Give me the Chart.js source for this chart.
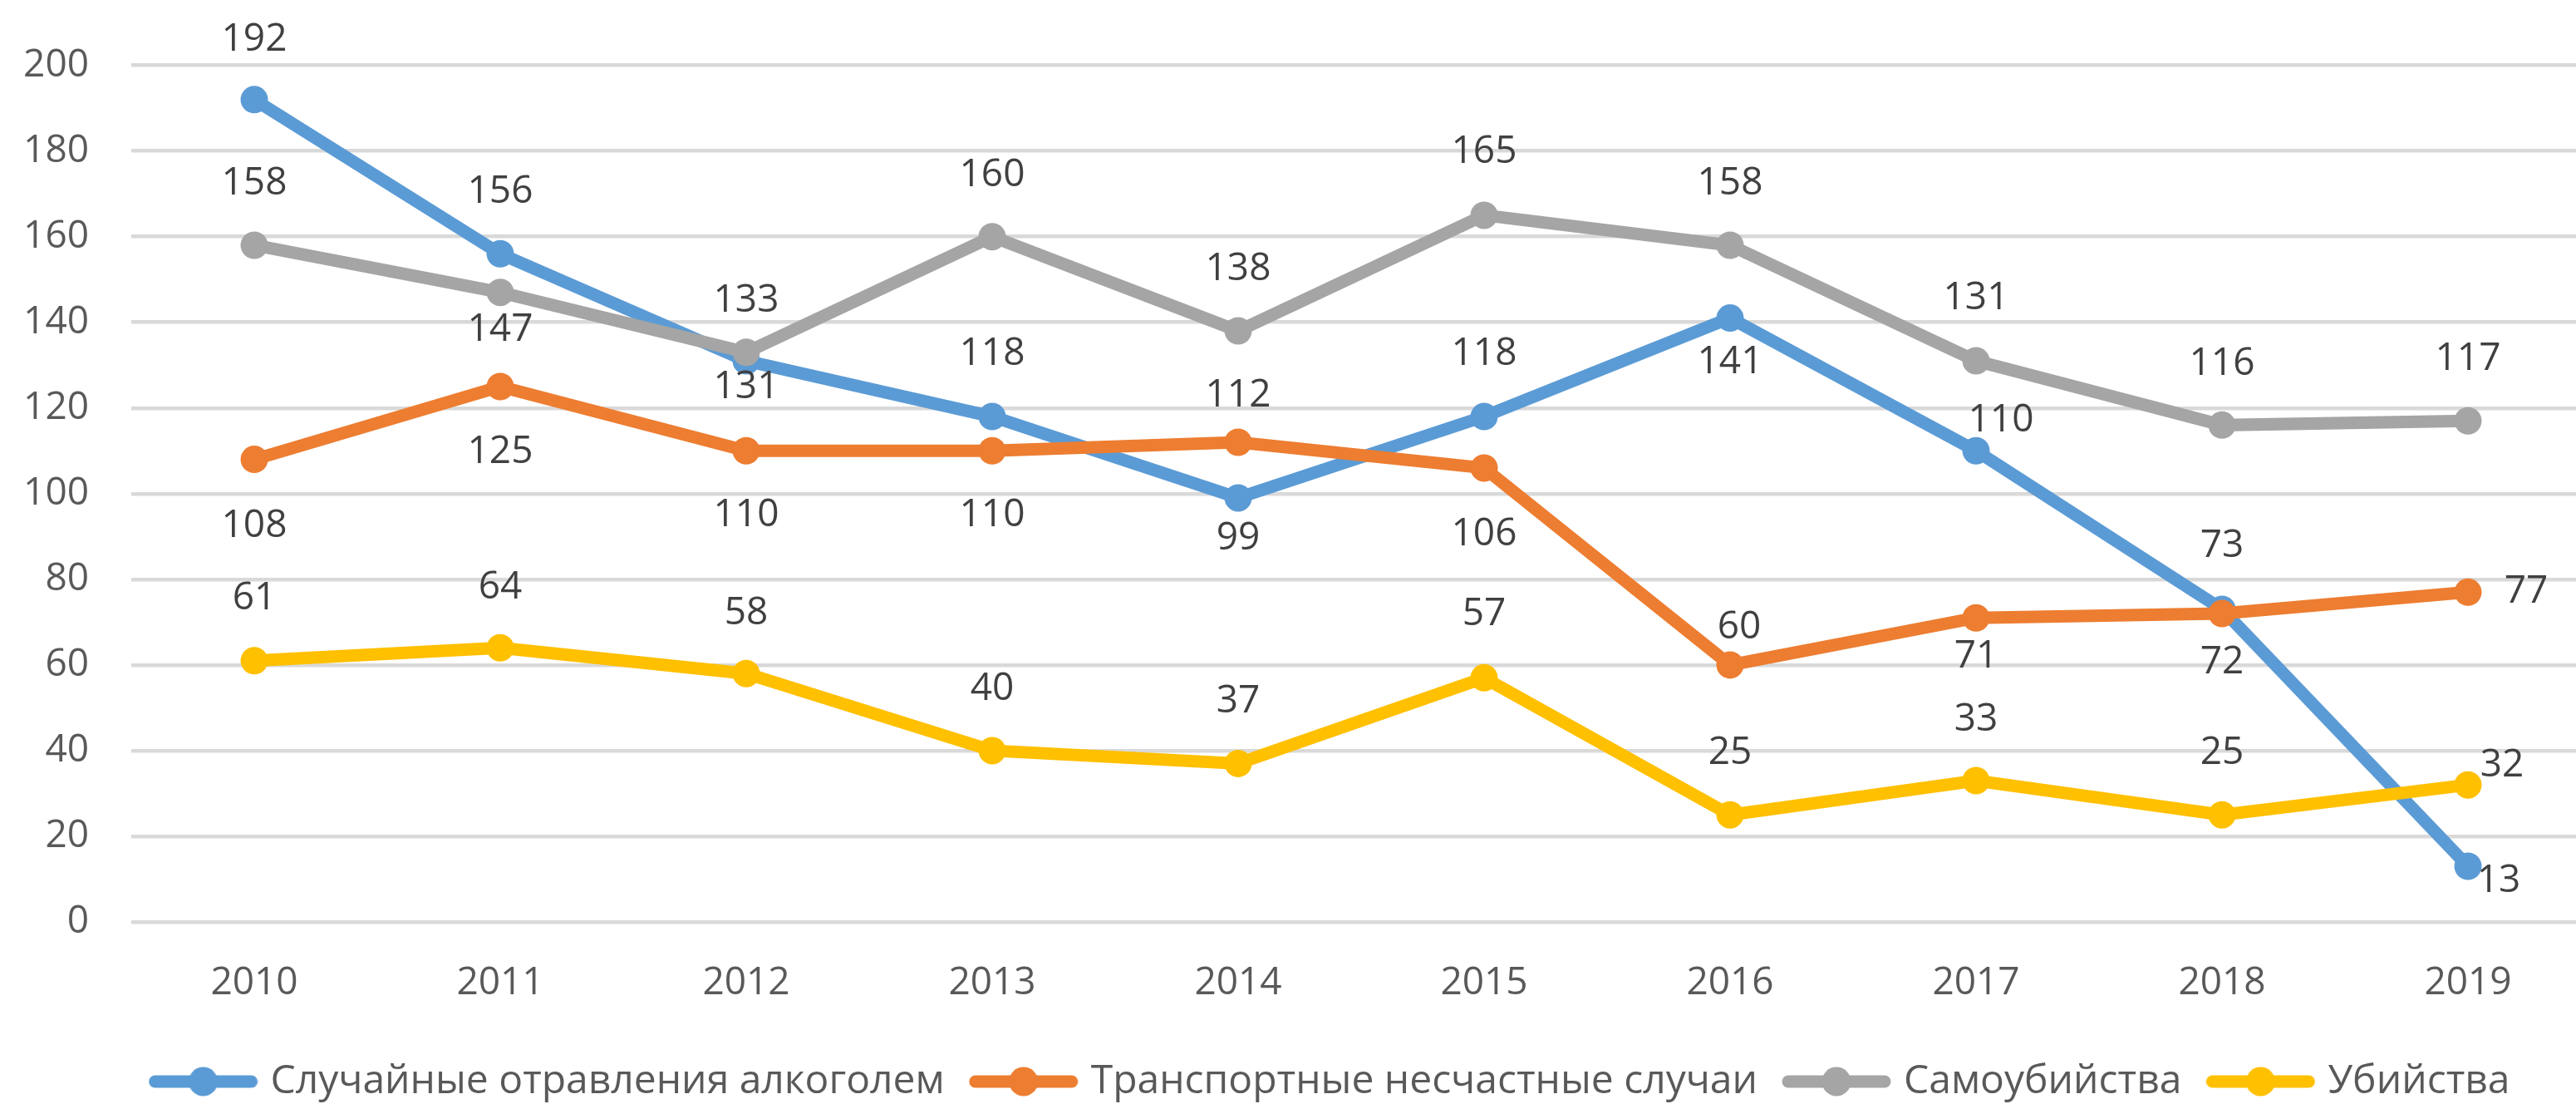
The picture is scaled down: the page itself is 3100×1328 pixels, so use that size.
<!DOCTYPE html>
<html>
<head>
<meta charset="utf-8">
<script src="https://cdn.jsdelivr.net/npm/chart.js@4/dist/chart.umd.min.js"></script>
<style>
  html, body { margin: 0; padding: 0; background: #ffffff; overflow: hidden; }
  #wrap { width: 3100px; height: 1328px; overflow: hidden; position: relative; }
  canvas { display: block; }
</style>
</head>
<body>
<div id="wrap"><canvas id="c" width="3208" height="1335"></canvas></div>
<script>
// ---- data ----
const years = ['2010', '2011', '2012', '2013', '2014', '2015', '2016', '2017', '2018', '2019'];
const seriesNames = ['Случайные отравления алкоголем', 'Транспортные несчастные случаи', 'Самоубийства', 'Убийства'];
const poisoning = [192, 156, 131, 118, 99, 118, 141, 110, 73, 13];
const transport = [108, 125, 110, 110, 112, 106, 60, 71, 72, 77];
const suicide = [158, 147, 133, 160, 138, 165, 158, 131, 116, 117];
const homicide = [61, 64, 58, 40, 37, 57, 25, 33, 25, 32];
const yMin = 0;
const yMax = 200;
const yStep = 20;

// ---- styling (kept apart from the data) ----
const colors = ['#5B9BD5', '#ED7D31', '#A5A5A5', '#FFC000'];
const FONT = '"Open Sans", "Noto Sans", sans-serif';
const FS = 46;
const LEGEND_FS = 48;
// data-label offsets in px relative to each point [dx, dy]
const labelOffsets = [
  [[0,-72],[0,-74],[0,32],[0,-75],[0,49],[0,-75],[0,53],[30,-36],[0,-76],[37,18]],
  [[0,80],[0,79],[0,78],[0,78],[0,-56],[0,80],[11,-45],[0,47],[0,59],[70,0]],
  [[0,-74],[0,45],[0,-62],[0,-74],[0,-74],[0,-76],[0,-74],[0,-75],[0,-73],[0,-74]],
  [[0,-75],[0,-72],[0,-72],[0,-74],[0,-74],[0,-76],[0,-74],[0,-73],[0,-74],[41,-23]]
];

function legendIcon(color) {
  const cv = document.createElement('canvas');
  cv.width = 132; cv.height = 38;
  const g = cv.getContext('2d');
  g.strokeStyle = color; g.lineWidth = 15; g.lineCap = 'round';
  g.beginPath(); g.moveTo(8, 19); g.lineTo(124, 19); g.stroke();
  g.fillStyle = color;
  g.beginPath(); g.arc(66, 19, 17.5, 0, Math.PI * 2); g.fill();
  return cv;
}
const icons = colors.map(legendIcon);

const allSeries = [poisoning, transport, suicide, homicide];

const dataLabelPlugin = {
  id: 'dataLabels',
  afterDatasetsDraw(chart) {
    const ctx = chart.ctx;
    ctx.save();
    ctx.font = FS + 'px ' + FONT;
    ctx.fillStyle = '#404040';
    ctx.textAlign = 'center';
    ctx.textBaseline = 'middle';
    chart.data.datasets.forEach((ds, i) => {
      const meta = chart.getDatasetMeta(i);
      meta.data.forEach((pt, j) => {
        const off = labelOffsets[i][j];
        ctx.fillText(String(ds.data[j]), pt.x + off[0], pt.y + off[1]);
      });
    });
    ctx.restore();
  }
};

new Chart(document.getElementById('c'), {
  type: 'line',
  data: {
    labels: years,
    datasets: allSeries.map((vals, i) => ({
      label: seriesNames[i],
      data: vals,
      borderColor: colors[i],
      backgroundColor: colors[i],
      borderWidth: 15,
      pointRadius: 16.5,
      pointHoverRadius: 16.5,
      pointBorderWidth: 0,
      pointBackgroundColor: colors[i],
      tension: 0,
      fill: false,
      order: allSeries.length - i
    }))
  },
  options: {
    responsive: false,
    animation: false,
    devicePixelRatio: 1,
    layout: { padding: { top: 71, left: 0, right: 0, bottom: 0 } },
    plugins: {
      legend: {
        position: 'bottom',
        labels: {
          usePointStyle: true,
          pointStyleWidth: 114,
          padding: 38,
          color: '#595959',
          font: { family: FONT, size: LEGEND_FS },
          generateLabels(chart) {
            return chart.data.datasets.map((ds, i) => ({
              text: ds.label,
              fillStyle: colors[i],
              strokeStyle: colors[i],
              lineWidth: 0,
              pointStyle: icons[i],
              fontColor: '#595959',
              hidden: false,
              datasetIndex: i
            }));
          }
        }
      },
      tooltip: { enabled: false },
      title: { display: false }
    },
    scales: {
      x: {
        offset: true,
        grid: { display: false, drawTicks: false },
        border: { display: false },
        ticks: { color: '#595959', font: { family: FONT, size: FS }, padding: 46, maxRotation: 0, autoSkip: false },
        afterFit(s) { s.height = 130; }
      },
      y: {
        min: yMin,
        max: yMax,
        grid: { color: '#D9D9D9', lineWidth: 4.5, drawTicks: false },
        border: { display: false },
        ticks: { stepSize: yStep, color: '#595959', font: { family: FONT, size: FS }, padding: 51 },
        afterFit(s) { s.width = 158; }
      },
      yRight: {
        position: 'right',
        display: true,
        grid: { display: false, drawTicks: false },
        border: { display: false },
        ticks: { display: false },
        afterFit(s) { s.width = 90; }
      }
    }
  },
  plugins: [dataLabelPlugin]
});
</script>
</body>
</html>
